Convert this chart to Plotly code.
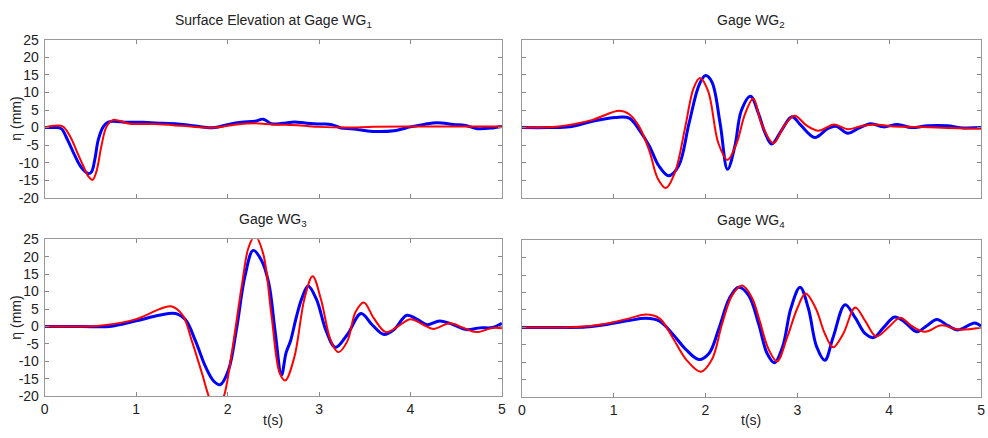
import plotly.graph_objects as go

# ---------------- data ----------------
# Gage WG1
t_wg1_blue = [0, 0.1, 0.18, 0.25, 0.33, 0.4, 0.477, 0.513, 0.549, 0.586, 0.64, 0.69, 0.75, 0.9, 1.07, 1.3, 1.43,
              1.6, 1.72, 1.86, 2.01, 2.15, 2.3, 2.39, 2.48, 2.6, 2.73, 2.85, 3.0, 3.13, 3.24, 3.35, 3.46, 3.6,
              3.82, 4.0, 4.15, 4.29, 4.47, 4.6, 4.73, 4.9, 5.0]
eta_wg1_blue = [0, 0, -0.3, -3.5, -8.0, -11.3, -13.1, -12.6, -9.0, -3.5, 0.2, 1.5, 1.8, 1.5, 1.5, 1.2, 1.1,
                0.6, 0.2, 0.0, 0.9, 1.5, 1.8, 2.4, 1.1, 1.2, 1.6, 1.3, 1.0, 0.9, -0.1, -0.3, -0.7, -1.1,
                -0.9, 0.2, 0.9, 1.4, 0.9, 0.6, -0.3, -0.1, 0.3]
t_wg1_red = [0, 0.1, 0.2, 0.28, 0.35, 0.42, 0.48, 0.524, 0.567, 0.62, 0.676, 0.75, 0.82, 0.93, 1.2, 1.5, 1.75,
             1.9, 2.1, 2.3, 2.5, 2.8, 3.0, 3.3, 3.6, 4.0, 4.5, 5.0]
eta_wg1_red = [0, 0.5, 0.3, -2.6, -6.7, -10.8, -14.0, -14.9, -12.4, -5.3, 0.2, 2.2, 1.9, 1.1, 1.0, 0.5, 0.0,
               0.1, 0.9, 1.2, 0.9, 0.6, 0.2, 0.0, 0.2, 0.3, 0.3, 0.3]

# Gage WG2
t_wg2_blue = [0, 0.3, 0.52, 0.77, 1.02, 1.17, 1.28, 1.39, 1.49, 1.6, 1.71, 1.82, 1.93, 2.0, 2.07, 2.16, 2.24,
              2.32, 2.39, 2.49, 2.58, 2.65, 2.72, 2.83, 2.94, 3.04, 3.19, 3.33, 3.42, 3.55, 3.66, 3.8, 3.94,
              4.09, 4.24, 4.42, 4.63, 4.81, 5.0]
eta_wg2_blue = [0, 0, 0.2, 1.8, 2.9, 2.7, -0.7, -5.3, -10.8, -13.7, -10.8, 1.1, 12.1, 14.8, 13.0, 1.1, -11.9,
                -5.3, 4.8, 8.9, 3.8, -1.6, -4.7, -0.7, 3.1, 0.6, -2.8, -0.3, 0.4, -1.6, -0.3, 1.1, 0.2,
                0.9, 0.0, 0.5, 0.5, -0.1, 0.0]
t_wg2_red = [0, 0.4, 0.77, 1.06, 1.17, 1.28, 1.39, 1.48, 1.57, 1.67, 1.78, 1.87, 1.94, 2.03, 2.14, 2.24, 2.34,
             2.43, 2.52, 2.61, 2.74, 2.86, 2.97, 3.1, 3.23, 3.4, 3.55, 3.69, 3.84, 4.02, 4.27, 4.63, 5.0]
eta_wg2_red = [0, 0.3, 2.2, 4.8, 3.8, 0.2, -6.7, -14.5, -17.2, -12.6, 0.2, 11.2, 14.1, 10.3, -4.4, -9.2, -4.4,
               3.8, 8.3, 1.1, -4.4, 0.6, 3.4, 0.6, -0.9, 0.9, -0.5, 0.4, 0.9, 0.4, 0.2, -0.1, -0.3]

# Gage WG3
t_wg3_blue = [0, 0.4, 0.71, 1.0, 1.25, 1.43, 1.54, 1.65, 1.76, 1.85, 1.92, 2.01, 2.1, 2.19, 2.28, 2.37, 2.45,
              2.52, 2.59, 2.64, 2.69, 2.75, 2.81, 2.88, 2.97, 3.08, 3.18, 3.31, 3.46, 3.58, 3.71, 3.82, 3.96,
              4.07, 4.18, 4.32, 4.47, 4.61, 4.76, 4.9, 5.0]
eta_wg3_blue = [0, 0, 0.0, 1.6, 3.2, 3.7, 1.9, -4.2, -11.6, -15.7, -16.7, -12.5, -0.4, 14.4, 21.8, 19.0, 12.5,
                -1.4, -13.9, -7.5, -4.0, 2.5, 7.9, 11.6, 7.9, -1.4, -6.0, -2.3, 3.7, 0.5, -2.3, -0.9, 3.2,
                2.1, 0.5, 1.6, 0.5, -0.9, -0.4, -0.3, 0.9]
t_wg3_red = [0, 0.4, 0.6, 1.0, 1.25, 1.38, 1.51, 1.61, 1.72, 1.81, 1.89, 1.96, 2.05, 2.16, 2.23, 2.3, 2.39, 2.48,
             2.57, 2.63, 2.73, 2.84, 2.93, 3.02, 3.13, 3.21, 3.31, 3.4, 3.49, 3.6, 3.73, 3.85, 4.0, 4.14,
             4.25, 4.43, 4.58, 4.72, 4.9, 5.0]
eta_wg3_red = [0, 0, 0.2, 2.1, 4.9, 5.8, 3.2, -4.2, -13.4, -21.0, -24.0, -20.0, -6.9, 12.5, 22.7, 26.0, 20.8,
               3.2, -13.4, -15.5, -8.8, 7.9, 14.4, 7.9, -4.2, -7.4, -4.2, 4.2, 6.9, 2.3, -1.6, -0.2, 2.1, 0.5,
               -0.7, 0.9, -0.4, -1.6, -0.4, -0.5]

# Gage WG4
t_wg4_blue = [0, 0.4, 0.7, 0.88, 1.17, 1.35, 1.5, 1.64, 1.79, 1.93, 2.04, 2.15, 2.26, 2.36, 2.47, 2.58, 2.67,
              2.75, 2.84, 2.93, 3.03, 3.12, 3.21, 3.3, 3.39, 3.52, 3.63, 3.74, 3.83, 3.94, 4.06, 4.17, 4.3,
              4.41, 4.52, 4.64, 4.75, 4.93, 5.0]
eta_wg4_blue = [0, 0, 0.1, 0.7, 2.0, 2.6, 1.8, -1.8, -6.4, -9.2, -7.4, 0.0, 8.3, 11.5, 9.2, 0.9, -7.4, -10.1,
                -5.5, 5.5, 11.5, 5.5, -5.5, -9.4, -2.8, 6.5, 2.8, -1.8, -2.9, 0.0, 3.0, 1.5, -1.2, 0.5, 2.3,
                0.5, -0.7, 1.3, 0.4]
t_wg4_red = [0, 0.4, 0.6, 0.88, 1.17, 1.35, 1.5, 1.64, 1.79, 1.95, 2.07, 2.18, 2.29, 2.4, 2.51, 2.58, 2.69,
             2.78, 2.89, 3.0, 3.09, 3.2, 3.3, 3.39, 3.5, 3.63, 3.74, 3.86, 3.99, 4.12, 4.24, 4.39, 4.57,
             4.75, 5.0]
eta_wg4_red = [0, 0, 0.1, 0.9, 2.6, 3.7, 2.6, -2.8, -9.2, -12.7, -9.2, 0.9, 9.2, 12.0, 8.3, 2.8, -6.4, -9.7,
               -2.8, 5.5, 9.7, 5.5, -1.8, -5.7, -1.8, 5.7, 1.8, -2.6, 0.0, 2.8, 0.5, -1.2, 0.6, -0.6, 0.0]

y_ticks = [-20, -15, -10, -5, 0, 5, 10, 15, 20, 25]
y_tick_text = ["-20", "-15", "-10", "-5", "0", "5", "10", "15", "20", "25"]
x_ticks = [0, 1, 2, 3, 4, 5]
titles = ["Surface Elevation at Gage WG<sub>1</sub>", "Gage WG<sub>2</sub>",
          "Gage WG<sub>3</sub>", "Gage WG<sub>4</sub>"]
y_label = "η (mm)"
x_label = "t(s)"

series = [
    (t_wg1_blue, eta_wg1_blue, t_wg1_red, eta_wg1_red),
    (t_wg2_blue, eta_wg2_blue, t_wg2_red, eta_wg2_red),
    (t_wg3_blue, eta_wg3_blue, t_wg3_red, eta_wg3_red),
    (t_wg4_blue, eta_wg4_blue, t_wg4_red, eta_wg4_red),
]

# ---------------- figure ----------------
W, H = 988, 438
FONT = "Arial, 'Liberation Sans', Helvetica, sans-serif"
TXT = "#222222"
px_x = [(41, 502), (522, 985), (41, 502), (522, 985)]
px_y = [(33, 197), (33, 197), (240, 403), (241, 404)]

fig = go.Figure()
layout = dict(width=W, height=H, margin=dict(l=0, r=0, t=0, b=0),
              paper_bgcolor="white", plot_bgcolor="white", showlegend=False,
              font=dict(family=FONT, size=14, color=TXT))
annotations = []
for i, (tb, eb, tr, er) in enumerate(series):
    n = "" if i == 0 else str(i + 1)
    xa, ya = "x" + n, "y" + n
    fig.add_trace(go.Scatter(x=tb, y=eb, xaxis=xa, yaxis=ya, mode="lines",
                             line=dict(color="#0000ff", width=3, shape="spline", smoothing=1.0)))
    fig.add_trace(go.Scatter(x=tr, y=er, xaxis=xa, yaxis=ya, mode="lines",
                             line=dict(color="#ff0000", width=2, shape="spline", smoothing=1.0)))
    x0, x1 = px_x[i]
    y0, y1 = px_y[i]
    dx = [x0 / W, x1 / W]
    dy = [(H - y1) / H, (H - y0) / H]
    bottom = i >= 2
    left = i % 2 == 0
    layout["xaxis" + n] = dict(domain=dx, anchor=ya, range=[0, 5], tickvals=x_ticks,
                               showticklabels=bottom, ticks="inside", ticklen=4, tickcolor="#888888",
                               showline=True, linecolor="#999999", linewidth=1, mirror="ticks",
                               showgrid=False, zeroline=False, tickfont=dict(size=14))
    layout["yaxis" + n] = dict(domain=dy, anchor=xa, range=[-20, 25], tickvals=y_ticks,
                               ticktext=y_tick_text, ticklabelstandoff=2,
                               showticklabels=left, ticks="inside", ticklen=4, tickcolor="#888888",
                               showline=True, linecolor="#999999", linewidth=1, mirror="ticks",
                               showgrid=False, zeroline=False, tickfont=dict(size=14))
    annotations.append(dict(text=titles[i], x=(dx[0] + dx[1]) / 2, y=dy[1], xref="paper", yref="paper",
                            xanchor="center", yanchor="bottom", yshift=8, showarrow=False,
                            font=dict(size=14, color=TXT)))
    if left:
        annotations.append(dict(text=y_label, x=12 / W, y=(dy[0] + dy[1]) / 2, xref="paper", yref="paper",
                                xanchor="center", yanchor="middle", textangle=-90, showarrow=False,
                                font=dict(size=14, color=TXT)))
    if bottom:
        annotations.append(dict(text=x_label, x=(dx[0] + dx[1]) / 2, y=(H - 428) / H, xref="paper",
                                yref="paper", xanchor="center", yanchor="middle", showarrow=False,
                                font=dict(size=14, color=TXT)))
layout["annotations"] = annotations
fig.update_layout(**layout)
fig.write_html("out.html")
